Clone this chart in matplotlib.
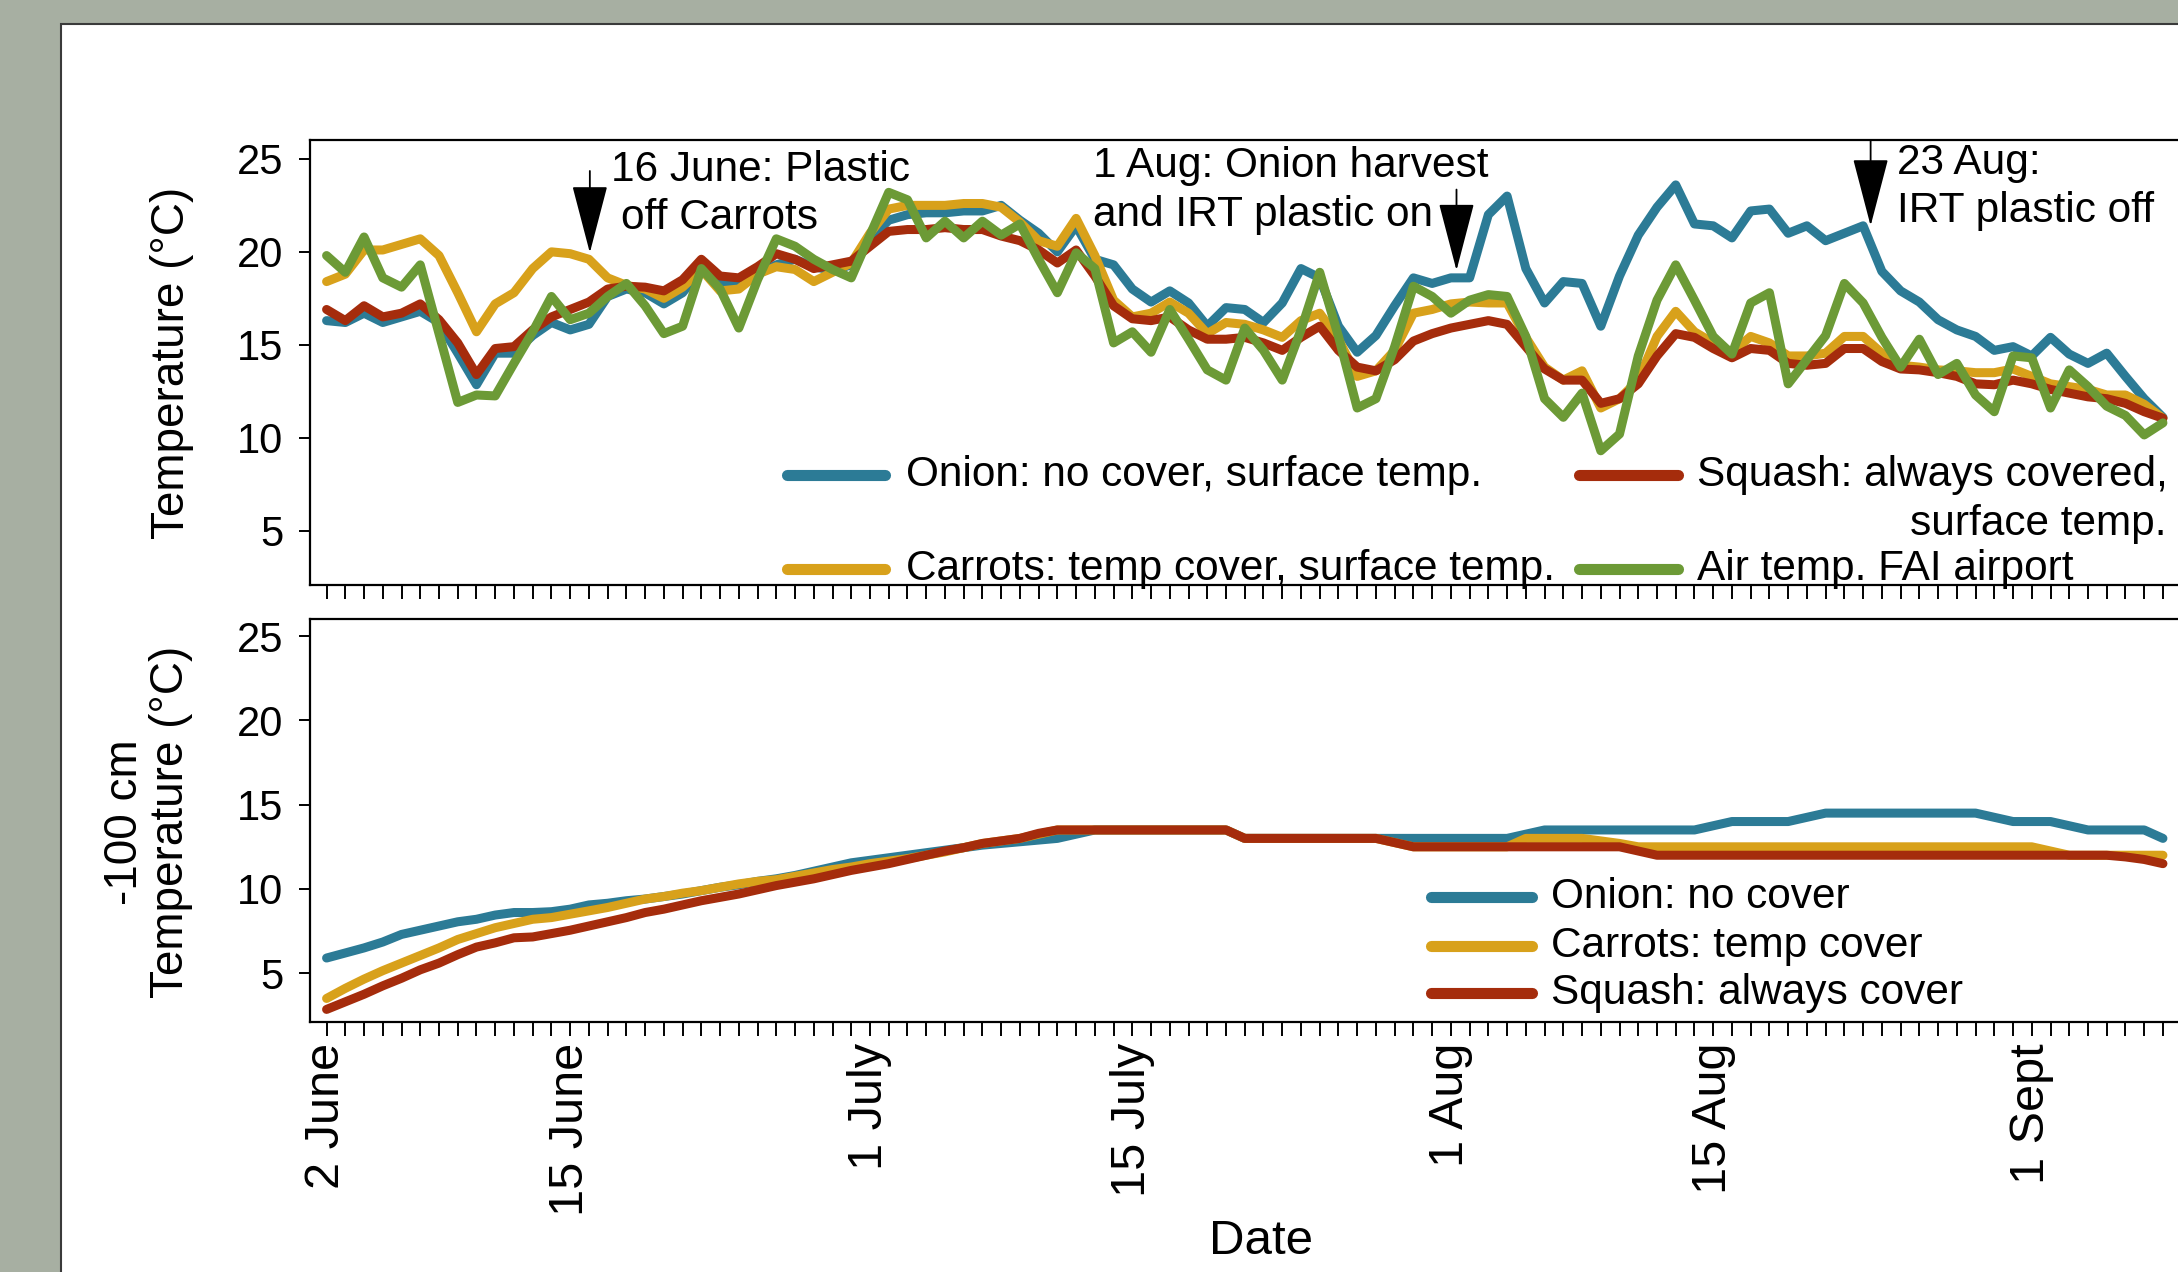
import numpy as np
import matplotlib
matplotlib.use("Agg")
import matplotlib.pyplot as plt
from matplotlib.patches import Rectangle
from matplotlib.lines import Line2D

plt.rcParams["font.family"] = ["Liberation Sans", "DejaVu Sans"]

# daily values, 2 June (day 0) to 8 Sept (day 98)
onion_surface = [
    16.3, 16.2, 16.7, 16.2, 16.5, 16.8, 16.2, 14.55, 12.85, 14.55,
    14.55, 15.5, 16.2, 15.8, 16.1, 17.6, 18.0, 17.8, 17.2, 17.8,
    19.05, 18.4, 18.15, 18.8, 19.3, 19.6, 19.2, 19.0, 19.3, 20.7,
    21.7, 22.0, 22.1, 22.1, 22.2, 22.2, 22.5, 21.7, 21.0, 20.0,
    21.4, 19.6, 19.3, 18.0, 17.3, 17.9, 17.25, 16.0, 17.0, 16.9,
    16.2, 17.25, 19.1, 18.6, 16.0, 14.6, 15.5, 17.1, 18.6, 18.3,
    18.6, 18.6, 22.0, 23.0, 19.1, 17.25, 18.4, 18.3, 16.0, 18.7,
    20.9, 22.4, 23.6, 21.5, 21.4, 20.75, 22.2, 22.3, 21.0, 21.4,
    20.6, 21.0, 21.4, 18.95, 17.9, 17.3, 16.35, 15.8, 15.45, 14.7,
    14.9, 14.4, 15.4, 14.5, 14.0, 14.55, 13.3, 12.1, 11.1,
]
carrots_surface = [
    18.4, 18.8, 20.1, 20.1, 20.4, 20.7, 19.8, 17.8, 15.7, 17.2,
    17.8, 19.1, 20.0, 19.9, 19.6, 18.6, 18.2, 18.0, 17.5, 18.1,
    19.05, 17.9, 18.0, 18.8, 19.2, 19.05, 18.4, 18.9, 19.4, 21.0,
    22.3, 22.5, 22.5, 22.5, 22.6, 22.6, 22.4, 21.6, 20.6, 20.3,
    21.8, 19.8, 17.4, 16.5, 16.7, 17.3, 16.7, 15.6, 16.2, 16.1,
    15.8, 15.4, 16.3, 16.7, 15.3, 13.3, 13.6, 14.7, 16.7, 16.9,
    17.2, 17.3, 17.25, 17.25, 15.4, 13.8, 13.1, 13.6, 11.6, 12.1,
    13.1, 15.45, 16.8, 15.7, 15.1, 14.6, 15.45, 15.1, 14.4, 14.4,
    14.55, 15.45, 15.45, 14.55, 13.9, 13.8, 13.65, 13.6, 13.5, 13.5,
    13.7, 13.3, 12.9, 12.75, 12.6, 12.3, 12.3, 11.8, 11.05,
]
squash_surface = [
    16.9, 16.3, 17.1, 16.5, 16.7, 17.2, 16.35, 15.1, 13.4, 14.8,
    14.9, 15.8, 16.5, 16.9, 17.3, 18.0, 18.15, 18.1, 17.9, 18.5,
    19.6, 18.7, 18.6, 19.2, 19.9, 19.6, 19.1, 19.3, 19.5, 20.3,
    21.1, 21.2, 21.2, 21.3, 21.2, 21.2, 20.85, 20.6, 20.1, 19.4,
    20.1, 18.7, 17.1, 16.4, 16.3, 16.5, 15.8, 15.3, 15.3, 15.4,
    15.1, 14.7, 15.4, 16.0, 14.7, 13.8, 13.6, 14.2, 15.2, 15.6,
    15.9, 16.1, 16.3, 16.1, 14.9, 13.7, 13.1, 13.1, 11.85, 12.1,
    12.9, 14.4, 15.6, 15.4, 14.8, 14.3, 14.8, 14.7, 14.0, 13.9,
    14.0, 14.8, 14.8, 14.1, 13.7, 13.65, 13.5, 13.3, 12.9, 12.85,
    13.1, 12.9, 12.6, 12.4, 12.2, 12.1, 11.85, 11.4, 11.05,
]
air_fai = [
    19.8, 18.9, 20.8, 18.6, 18.1, 19.3, 15.6, 11.9, 12.3, 12.25,
    14.0, 15.7, 17.6, 16.35, 16.7, 17.6, 18.3, 17.1, 15.6, 16.0,
    19.1, 18.0, 15.9, 18.5, 20.7, 20.3, 19.6, 19.05, 18.6, 20.9,
    23.2, 22.8, 20.75, 21.65, 20.75, 21.65, 20.9, 21.5, 19.6, 17.8,
    19.95, 19.1, 15.1, 15.7, 14.6, 16.9, 15.3, 13.65, 13.1, 15.9,
    14.7, 13.1, 15.8, 18.9, 15.45, 11.6, 12.1, 14.9, 18.15, 17.6,
    16.7, 17.4, 17.7, 17.6, 15.45, 12.1, 11.1, 12.4, 9.3, 10.2,
    14.4, 17.4, 19.3, 17.4, 15.45, 14.5, 17.25, 17.8, 12.9, 14.2,
    15.5, 18.3, 17.25, 15.4, 13.8, 15.3, 13.4, 14.0, 12.3, 11.4,
    14.4, 14.3, 11.6, 13.65, 12.75, 11.7, 11.2, 10.15, 10.8,
]

onion_100cm = [
    5.9, 6.2, 6.5, 6.85, 7.3, 7.55, 7.8, 8.05, 8.2, 8.45,
    8.6, 8.6, 8.65, 8.8, 9.05, 9.15, 9.3, 9.4, 9.55, 9.7,
    9.9, 10.1, 10.25, 10.45, 10.6, 10.8, 11.05, 11.3, 11.55, 11.7,
    11.85, 12.0, 12.15, 12.3, 12.45, 12.6, 12.7, 12.8, 12.9, 13.0,
    13.25, 13.5, 13.5, 13.5, 13.5, 13.5, 13.5, 13.5, 13.5, 13.0,
    13.0, 13.0, 13.0, 13.0, 13.0, 13.0, 13.0, 13.0, 13.0, 13.0,
    13.0, 13.0, 13.0, 13.0, 13.25, 13.5, 13.5, 13.5, 13.5, 13.5,
    13.5, 13.5, 13.5, 13.5, 13.75, 14.0, 14.0, 14.0, 14.0, 14.25,
    14.5, 14.5, 14.5, 14.5, 14.5, 14.5, 14.5, 14.5, 14.5, 14.25,
    14.0, 14.0, 14.0, 13.75, 13.5, 13.5, 13.5, 13.5, 13.0,
]
carrots_100cm = [
    3.5, 4.1, 4.65, 5.15, 5.6, 6.05, 6.5, 7.0, 7.35, 7.7,
    7.95, 8.2, 8.3, 8.5, 8.7, 8.9, 9.15, 9.4, 9.55, 9.75,
    9.9, 10.1, 10.3, 10.45, 10.55, 10.75, 10.95, 11.15, 11.3, 11.5,
    11.65, 11.8, 12.0, 12.2, 12.45, 12.7, 12.85, 13.0, 13.25, 13.5,
    13.5, 13.5, 13.5, 13.5, 13.5, 13.5, 13.5, 13.5, 13.5, 13.0,
    13.0, 13.0, 13.0, 13.0, 13.0, 13.0, 13.0, 12.75, 12.5, 12.5,
    12.5, 12.5, 12.5, 12.5, 13.0, 13.0, 13.0, 13.0, 12.85, 12.7,
    12.5, 12.5, 12.5, 12.5, 12.5, 12.5, 12.5, 12.5, 12.5, 12.5,
    12.5, 12.5, 12.5, 12.5, 12.5, 12.5, 12.5, 12.5, 12.5, 12.5,
    12.5, 12.5, 12.25, 12.0, 12.0, 12.0, 12.0, 12.0, 12.0,
]
squash_100cm = [
    2.85, 3.3, 3.75, 4.25, 4.7, 5.2, 5.6, 6.1, 6.55, 6.8,
    7.1, 7.15, 7.35, 7.55, 7.8, 8.05, 8.3, 8.6, 8.8, 9.05,
    9.3, 9.5, 9.7, 9.95, 10.2, 10.4, 10.6, 10.85, 11.1, 11.3,
    11.5, 11.75, 12.0, 12.25, 12.45, 12.7, 12.85, 13.0, 13.3, 13.5,
    13.5, 13.5, 13.5, 13.5, 13.5, 13.5, 13.5, 13.5, 13.5, 13.0,
    13.0, 13.0, 13.0, 13.0, 13.0, 13.0, 13.0, 12.75, 12.5, 12.5,
    12.5, 12.5, 12.5, 12.5, 12.5, 12.5, 12.5, 12.5, 12.5, 12.5,
    12.25, 12.0, 12.0, 12.0, 12.0, 12.0, 12.0, 12.0, 12.0, 12.0,
    12.0, 12.0, 12.0, 12.0, 12.0, 12.0, 12.0, 12.0, 12.0, 12.0,
    12.0, 12.0, 12.0, 12.0, 12.0, 12.0, 11.9, 11.75, 11.5,
]

date_tick_days = [0, 13, 29, 43, 60, 74, 91]
date_tick_labels = ["2 June", "15 June", "1 July", "15 July", "1 Aug", "15 Aug", "1 Sept"]

colors = {
    "onion": "#2c7b96",
    "carrots": "#d8a11b",
    "squash": "#a52c0c",
    "air": "#6c9a36",
}

days = np.arange(len(onion_surface))

fig = plt.figure(figsize=(21.78, 12.72), dpi=100, facecolor="#a7afa2")
fig.patches.append(Rectangle((0.0281, -0.1), 1.2, 1.0814, transform=fig.transFigure,
                             facecolor="white", edgecolor="#3a3a3a", linewidth=1.5,
                             zorder=-10))

ax_w = 0.8939
ax1 = fig.add_axes([0.1422, 0.5404, ax_w, 0.3493])
ax2 = fig.add_axes([0.1422, 0.1965, ax_w, 0.3166])

lw = 6.5
line_kw = dict(linewidth=lw, solid_joinstyle="round", solid_capstyle="round")
ax1.plot(days, onion_surface, color=colors["onion"], **line_kw)
ax1.plot(days, carrots_surface, color=colors["carrots"], **line_kw)
ax1.plot(days, squash_surface, color=colors["squash"], **line_kw)
ax1.plot(days, air_fai, color=colors["air"], **line_kw)

ax2.plot(days, onion_100cm, color=colors["onion"], **line_kw)
ax2.plot(days, carrots_100cm, color=colors["carrots"], **line_kw)
ax2.plot(days, squash_100cm, color=colors["squash"], **line_kw)

all_days = np.arange(0, 103)
for ax in (ax1, ax2):
    ax.set_xlim(-0.9, 103.0)
    ax.set_ylim(2.1, 26.0)
    ax.set_yticks([5, 10, 15, 20, 25])
    ax.set_xticks(all_days)
    ax.tick_params(axis="y", direction="out", length=8, width=1.4, labelsize=30, pad=11)
    ax.tick_params(axis="x", direction="out", length=10, width=1.4)
    for s in ax.spines.values():
        s.set_linewidth(1.6)
    ax.set_facecolor("white")

ax1.set_xticklabels([])
labels = ["" for _ in all_days]
for d, lab in zip(date_tick_days, date_tick_labels):
    labels[d] = lab
ax2.set_xticklabels(labels, rotation=90, fontsize=35)
ax2.tick_params(axis="x", pad=5)

fig.text(0.079, 0.7146, "Temperature (°C)", rotation=90, ha="center", va="center", fontsize=33)
fig.text(0.068, 0.354, "-100 cm\nTemperature (°C)", rotation=90, ha="center", va="center",
         fontsize=33, linespacing=1.05)
fig.text(0.579, 0.024, "Date", ha="center", va="center", fontsize=35.5)

# annotations
arrow_kw = dict(arrowstyle="-|>,head_length=4.4,head_width=1.15", mutation_scale=10,
                color="black", lw=1.3, shrinkA=0, shrinkB=0)
ax1.annotate("", xy=(14.05, 19.95), xytext=(14.05, 24.35), arrowprops=arrow_kw)
ax1.annotate("", xy=(60.3, 19.0), xytext=(60.3, 23.35), arrowprops=arrow_kw)
ax1.annotate("", xy=(82.4, 21.4), xytext=(82.4, 26.0), arrowprops=arrow_kw)

ann_fs = 30.5
ax1.text(15.2, 24.4, "16 June: Plastic", ha="left", va="center", fontsize=ann_fs)
ax1.text(15.7, 21.8, "off Carrots", ha="left", va="center", fontsize=ann_fs)
ax1.text(40.9, 24.6, "1 Aug: Onion harvest", ha="left", va="center", fontsize=ann_fs)
ax1.text(40.9, 22.0, "and IRT plastic on", ha="left", va="center", fontsize=ann_fs)
ax1.text(83.8, 24.8, "23 Aug:", ha="left", va="center", fontsize=ann_fs)
ax1.text(83.8, 22.2, "IRT plastic off", ha="left", va="center", fontsize=ann_fs)

# legends drawn by hand
leg_lw = 8
leg_fs = 30.5


def leg_line(ax, x0, x1, y, color):
    ax.add_line(Line2D([x0, x1], [y, y], transform=ax.transAxes, color=color,
                       linewidth=leg_lw, solid_capstyle="round", clip_on=False))


leg_line(ax1, 0.2454, 0.2954, 0.2469, colors["onion"])
ax1.text(0.3061, 0.2469, "Onion: no cover, surface temp.", transform=ax1.transAxes,
         ha="left", va="center", fontsize=leg_fs)
leg_line(ax1, 0.2454, 0.2954, 0.0344, colors["carrots"])
ax1.text(0.3061, 0.0344, "Carrots: temp cover, surface temp.", transform=ax1.transAxes,
         ha="left", va="center", fontsize=leg_fs)
leg_line(ax1, 0.6521, 0.7028, 0.2469, colors["squash"])
ax1.text(0.7128, 0.2469, "Squash: always covered,", transform=ax1.transAxes,
         ha="left", va="center", fontsize=leg_fs)
ax1.text(0.9539, 0.1375, "surface temp.", transform=ax1.transAxes,
         ha="right", va="center", fontsize=leg_fs)
leg_line(ax1, 0.6521, 0.7028, 0.0344, colors["air"])
ax1.text(0.7128, 0.0344, "Air temp. FAI airport", transform=ax1.transAxes,
         ha="left", va="center", fontsize=leg_fs)

leg_line(ax2, 0.5758, 0.6279, 0.3103, colors["onion"])
ax2.text(0.6378, 0.3103, "Onion: no cover", transform=ax2.transAxes,
         ha="left", va="center", fontsize=leg_fs)
leg_line(ax2, 0.5758, 0.6279, 0.1897, colors["carrots"])
ax2.text(0.6378, 0.1897, "Carrots: temp cover", transform=ax2.transAxes,
         ha="left", va="center", fontsize=leg_fs)
leg_line(ax2, 0.5758, 0.6279, 0.0724, colors["squash"])
ax2.text(0.6378, 0.0724, "Squash: always cover", transform=ax2.transAxes,
         ha="left", va="center", fontsize=leg_fs)

fig.savefig("out.png", dpi=100, facecolor=fig.get_facecolor())
